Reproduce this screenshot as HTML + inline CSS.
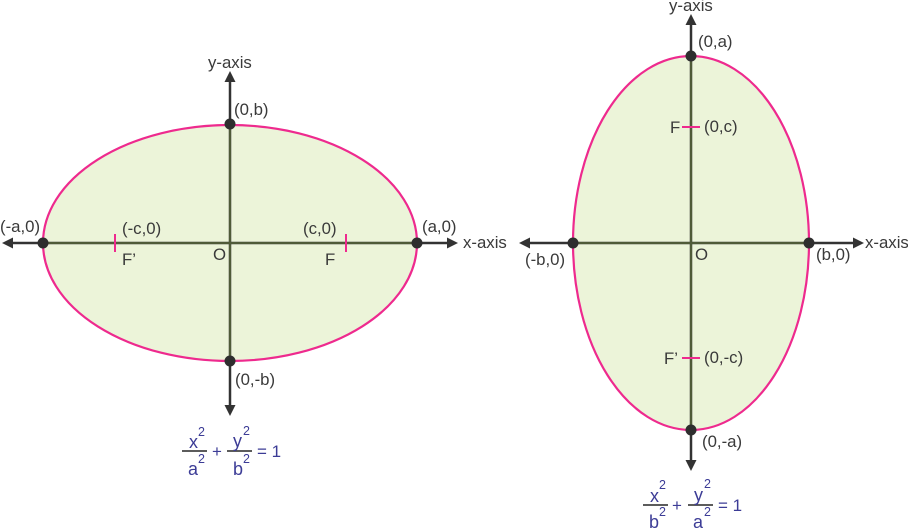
<!DOCTYPE html>
<html><head><meta charset="utf-8"><style>
html,body{margin:0;padding:0;background:#fff}
svg{display:block}
text{font-family:"Liberation Sans",sans-serif;font-size:16.8px;fill:#3a3a3a}
.m{fill:#3c3c96;font-size:17px}
.v{fill:#3c3c96;font-size:18px}
.s{fill:#3c3c96;font-size:12.5px}
</style></head><body>
<svg width="908" height="528" viewBox="0 0 908 528" xmlns="http://www.w3.org/2000/svg">
<!-- left -->
<ellipse cx="230" cy="243" rx="187" ry="118" fill="#ecf4d9" stroke="#ee2a8e" stroke-width="2.200"/>
<line x1="10" y1="243" x2="450" y2="243" stroke="#333" stroke-width="2.500"/>
<line x1="230" y1="82" x2="230" y2="405" stroke="#333" stroke-width="2.500"/>
<line x1="43" y1="243" x2="417" y2="243" stroke="#4f5a38" stroke-width="2"/>
<line x1="230" y1="124" x2="230" y2="361" stroke="#4f5a38" stroke-width="2"/>
<polygon points="2,243 13,237.500 13,248.500" fill="#333"/>
<polygon points="458,243 447,237.500 447,248.500" fill="#333"/>
<polygon points="230,71 224.500,82 235.500,82" fill="#333"/>
<polygon points="230,416 224.500,405 235.500,405" fill="#333"/>
<line x1="115" y1="234" x2="115" y2="252" stroke="#ee2a8e" stroke-width="2"/>
<line x1="346" y1="234" x2="346" y2="252" stroke="#ee2a8e" stroke-width="2"/>
<circle cx="43" cy="243" r="5.500" fill="#2e2e2e"/><circle cx="417" cy="243" r="5.500" fill="#2e2e2e"/>
<circle cx="230" cy="124" r="5.500" fill="#2e2e2e"/><circle cx="230" cy="361" r="5.500" fill="#2e2e2e"/>
<text x="208" y="68">y-axis</text>
<text x="234" y="115">(0,b)</text>
<text x="0" y="232">(-a,0)</text>
<text x="122" y="234">(-c,0)</text>
<text x="303" y="234">(c,0)</text>
<text x="422" y="232">(a,0)</text>
<text x="463" y="248">x-axis</text>
<text x="122" y="265">F’</text>
<text x="213" y="260">O</text>
<text x="325" y="265">F</text>
<text x="235" y="385">(0,-b)</text>
<line x1="182" y1="451" x2="207" y2="451" stroke="#444" stroke-width="1.800"/>
<line x1="227" y1="451" x2="252" y2="451" stroke="#444" stroke-width="1.800"/>
<text class="v" x="189" y="448">x</text><text class="s" x="198" y="436">2</text>
<text class="v" x="188" y="475">a</text><text class="s" x="198" y="463">2</text>
<text class="m" x="212" y="457">+</text>
<text class="v" x="233" y="447">y</text><text class="s" x="243" y="435">2</text>
<text class="v" x="233" y="475">b</text><text class="s" x="243" y="463">2</text>
<text class="m" x="257" y="457">= 1</text>
<!-- right -->
<ellipse cx="691" cy="243" rx="118" ry="187" fill="#ecf4d9" stroke="#ee2a8e" stroke-width="2.200"/>
<line x1="528" y1="243" x2="855" y2="243" stroke="#333" stroke-width="2.500"/>
<line x1="691" y1="22" x2="691" y2="462" stroke="#333" stroke-width="2.500"/>
<line x1="573" y1="243" x2="809" y2="243" stroke="#4f5a38" stroke-width="2"/>
<line x1="691" y1="56" x2="691" y2="430" stroke="#4f5a38" stroke-width="2"/>
<polygon points="519,243 530,237.500 530,248.500" fill="#333"/>
<polygon points="864,243 853,237.500 853,248.500" fill="#333"/>
<polygon points="691,14 685.500,25 696.500,25" fill="#333"/>
<polygon points="691,471 685.500,460 696.500,460" fill="#333"/>
<line x1="682" y1="127" x2="700" y2="127" stroke="#ee2a8e" stroke-width="2"/>
<line x1="682" y1="358" x2="700" y2="358" stroke="#ee2a8e" stroke-width="2"/>
<circle cx="573" cy="243" r="5.500" fill="#2e2e2e"/><circle cx="809" cy="243" r="5.500" fill="#2e2e2e"/>
<circle cx="691" cy="56" r="5.500" fill="#2e2e2e"/><circle cx="691" cy="430" r="5.500" fill="#2e2e2e"/>
<text x="669" y="11">y-axis</text>
<text x="698" y="47">(0,a)</text>
<text x="670" y="133">F</text>
<text x="704" y="132">(0,c)</text>
<text x="525" y="265">(-b,0)</text>
<text x="695" y="260">O</text>
<text x="816" y="260">(b,0)</text>
<text x="865" y="248">x-axis</text>
<text x="664" y="364">F’</text>
<text x="704" y="363">(0,-c)</text>
<text x="702" y="447">(0,-a)</text>
<line x1="643" y1="505" x2="668" y2="505" stroke="#444" stroke-width="1.800"/>
<line x1="688" y1="505" x2="713" y2="505" stroke="#444" stroke-width="1.800"/>
<text class="v" x="650" y="502">x</text><text class="s" x="659" y="489">2</text>
<text class="v" x="649" y="528">b</text><text class="s" x="659" y="516">2</text>
<text class="m" x="672" y="511">+</text>
<text class="v" x="694" y="501">y</text><text class="s" x="704" y="488">2</text>
<text class="v" x="693" y="528">a</text><text class="s" x="704" y="516">2</text>
<text class="m" x="718" y="511">= 1</text>
</svg>
</body></html>
